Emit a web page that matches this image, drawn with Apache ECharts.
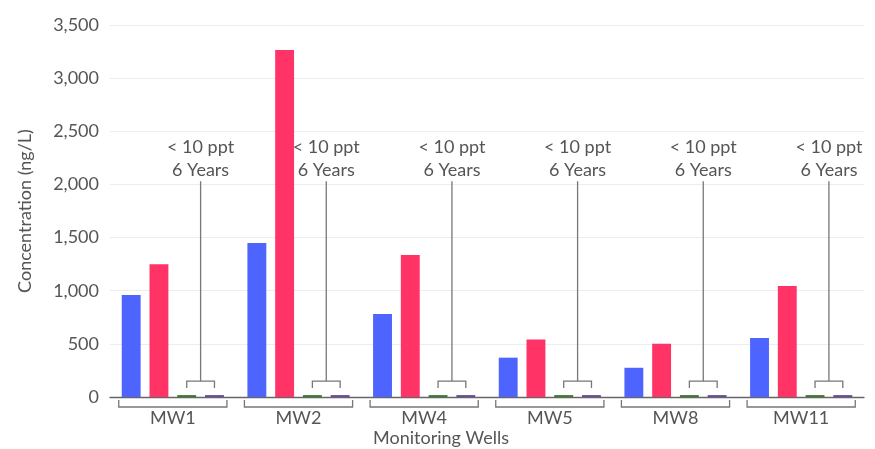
<!DOCTYPE html>
<html>
<head>
<meta charset="utf-8">
<script src="https://cdn.jsdelivr.net/npm/echarts@6/dist/echarts.min.js"></script>
<style>html,body{margin:0;padding:0;background:#fff;}#c{width:875px;height:449px;}</style>
</head>
<body>
<div id="c"></div>
<script>
var categories = ['MW1', 'MW2', 'MW4', 'MW5', 'MW8', 'MW11'];
var seriesA = [960, 1450, 780, 370, 275, 555];
var seriesB = [1250, 3265, 1335, 540, 500, 1045];
var seriesC = [18, 18, 18, 18, 18, 18];
var seriesD = [18, 18, 18, 18, 18, 18];
var yTicks = [0, 500, 1000, 1500, 2000, 2500, 3000, 3500];
var noteLines = ['< 10 ppt', '6 Years'];
var bracketValue = 150;
var noteTopValue = 2030;

var FONT = 'Lato';
var FS = 18;
var TXT = '#555';
var COLORS = ['#4D64FF', '#FF3366', '#3F7A30', '#6A4C9C'];
var CAT_GAP = 0.187, BAR_GAP = 0.47;

function renderNote(params, api) {
  var idx = api.value(0);
  var c0 = api.coord([idx, 0]);
  var band = api.size([1, 0])[0];
  var w = band * (1 - CAT_GAP) / (4 + 3 * BAR_GAP);
  var step = w * (1 + BAR_GAP);
  var cx = c0[0];
  var y0 = c0[1];
  var gx = cx + 0.5 * step, px = cx + 1.5 * step;
  var mx = (gx + px) / 2;
  var yb = api.coord([idx, bracketValue])[1];
  var yt = api.coord([idx, noteTopValue])[1];
  var half = (3 * step + w) / 2 + 3;
  var ls = {stroke: '#777', lineWidth: 1.3, fill: null};
  var els = [
    {type: 'polyline', shape: {points: [[gx, yb + 7], [gx, yb], [px, yb], [px, yb + 7]]}, style: ls},
    {type: 'line', shape: {x1: mx, y1: yb, x2: mx, y2: yt}, style: ls},
    {type: 'polyline', shape: {points: [[cx - half, y0 + 3], [cx - half, y0 + 10], [cx + half, y0 + 10], [cx + half, y0 + 3]]}, style: ls}
  ];
  for (var i = 0; i < noteLines.length; i++) {
    els.push({type: 'text', x: mx, y: yt - 2 - (noteLines.length - 1 - i) * 23,
      style: {text: noteLines[i], fill: TXT, font: FS + 'px ' + FONT, align: 'center', verticalAlign: 'bottom'}});
  }
  return {type: 'group', children: els};
}

var chart = echarts.init(document.getElementById('c'), null, {renderer: 'canvas'});
chart.setOption({
  animation: false,
  grid: {left: 110, right: 11, top: 25, bottom: 52, containLabel: false},
  xAxis: {
    type: 'category', data: categories,
    axisLine: {lineStyle: {color: '#666', width: 1.3}},
    axisTick: {show: false},
    axisLabel: {color: TXT, fontFamily: FONT, fontSize: FS, margin: 12}
  },
  yAxis: {
    type: 'value', min: 0, max: 3500, interval: 500,
    name: 'Concentration (ng/L)', nameLocation: 'middle', nameGap: 76,
    nameTextStyle: {color: TXT, fontFamily: FONT, fontSize: FS},
    axisLine: {show: false}, axisTick: {show: false},
    axisLabel: {color: TXT, fontFamily: FONT, fontSize: FS, margin: 11,
      formatter: function (v) { return yTicks.indexOf(v) >= 0 ? v.toLocaleString('en-US') : ''; }},
    splitLine: {lineStyle: {color: '#ececf2'}}
  },
  graphic: [{type: 'text', x: 441, y: 438, style: {text: 'Monitoring Wells', fill: TXT, font: FS + 'px ' + FONT, align: 'center', verticalAlign: 'middle'}}],
  series: [
    {type: 'bar', data: seriesA, itemStyle: {color: COLORS[0]}, barGap: (BAR_GAP * 100) + '%', barCategoryGap: (CAT_GAP * 100) + '%'},
    {type: 'bar', data: seriesB, itemStyle: {color: COLORS[1]}},
    {type: 'bar', data: seriesC, itemStyle: {color: COLORS[2]}},
    {type: 'bar', data: seriesD, itemStyle: {color: COLORS[3]}},
    {type: 'custom', data: categories.map(function (c, i) { return [i]; }), renderItem: renderNote, clip: false, silent: true, z: 5}
  ]
});
</script>
</body>
</html>
